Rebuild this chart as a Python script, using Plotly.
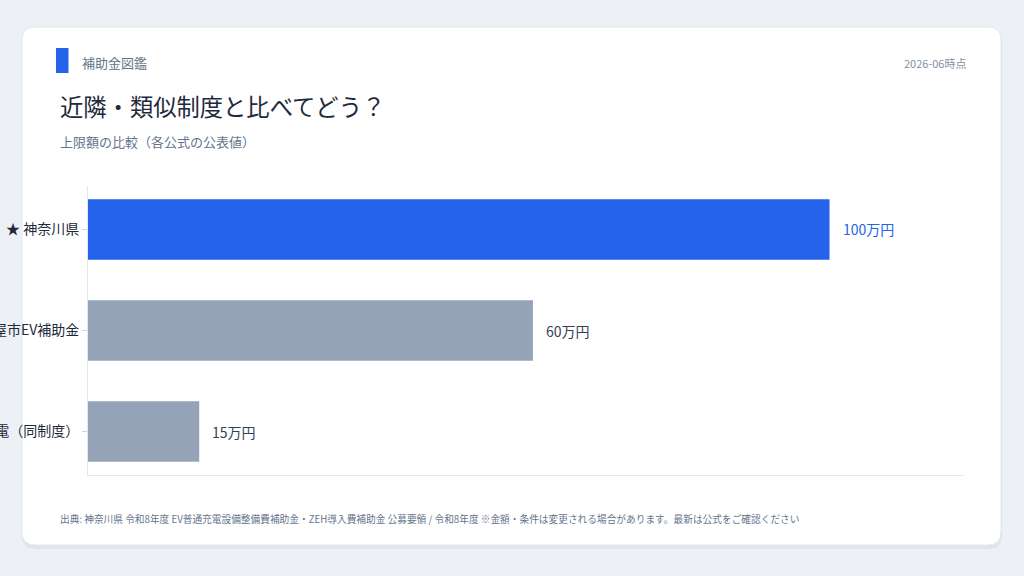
import plotly.graph_objects as go

categories = ["★ 神奈川県", "名古屋市EV補助金", "EV普通充電（同制度）"]
values = [100, 60, 15]
value_unit = "万円"
bar_colors = ["#2563eb", "#94a3b8", "#94a3b8"]
label_colors = ["#2563eb", "#334155", "#334155"]

header = "補助金図鑑"
date_text = "2026-06時点"
title = "近隣・類似制度と比べてどう？"
subtitle = "上限額の比較（各公式の公表値）"
footer = ("出典: 神奈川県 令和8年度 EV普通充電設備整備費補助金・ZEH導入費補助金 公募要領 / 令和8年度 "
          "※金額・条件は変更される場合があります。最新は公式をご確認ください")

FONT = "Noto Sans CJK JP, Noto Sans, sans-serif"
WIDTH, HEIGHT = 1024, 576
L, R, T, B = 88, 61, 186, 101
PW = WIDTH - L - R
PH = HEIGHT - T - B


def px(x):
    return (x - L) / PW


def py(y):
    return (HEIGHT - B - y) / PH


def rounded_rect(x0, y0, x1, y1, r):
    rx = r / PW
    ry = r / PH
    X0, X1 = px(x0), px(x1)
    Y0, Y1 = py(y0), py(y1)  # Y0 top (larger), Y1 bottom
    return (f"M {X0+rx},{Y0} L {X1-rx},{Y0} Q {X1},{Y0} {X1},{Y0-ry} "
            f"L {X1},{Y1+ry} Q {X1},{Y1} {X1-rx},{Y1} L {X0+rx},{Y1} "
            f"Q {X0},{Y1} {X0},{Y1+ry} L {X0},{Y0-ry} Q {X0},{Y0} {X0+rx},{Y0} Z")


fig = go.Figure()
fig.add_trace(go.Bar(
    x=values, y=categories, orientation="h",
    marker=dict(color=bar_colors, line=dict(width=0)),
    width=0.6, hoverinfo="skip",
))

shapes = [
    dict(type="path", xref="paper", yref="paper", layer="below",
         path=rounded_rect(22, 31, 1002, 549, 13),
         fillcolor="#dfe5ee", line=dict(width=0)),
    dict(type="path", xref="paper", yref="paper", layer="below",
         path=rounded_rect(22, 27, 1001, 545, 13),
         fillcolor="#ffffff", line=dict(color="#e2e8f0", width=1)),
    dict(type="rect", xref="paper", yref="paper", layer="below",
         x0=px(56), x1=px(68.5), y0=py(73), y1=py(48),
         fillcolor="#2563eb", line=dict(width=0)),
]

annotations = [
    dict(text=header, xref="paper", yref="paper", x=px(80), y=py(63),
         xanchor="left", yanchor="middle", showarrow=False,
         font=dict(family=FONT, size=13, color="#64748b")),
    dict(text=date_text, xref="paper", yref="paper", x=px(968), y=py(63),
         xanchor="right", yanchor="middle", showarrow=False,
         font=dict(family=FONT, size=11, color="#8391a5")),
    dict(text=title, xref="paper", yref="paper", x=px(58), y=py(106),
         xanchor="left", yanchor="middle", showarrow=False,
         font=dict(family=FONT, size=23.3, color="#1e293b")),
    dict(text=subtitle, xref="paper", yref="paper", x=px(58), y=py(141),
         xanchor="left", yanchor="middle", showarrow=False,
         font=dict(family=FONT, size=13, color="#64748b")),
    dict(text=footer, xref="paper", yref="paper", x=px(58), y=py(519),
         xanchor="left", yanchor="middle", showarrow=False,
         font=dict(family=FONT, size=9.7, color="#64748b")),
]
for cat, v, c in zip(categories, values, label_colors):
    annotations.append(dict(
        text=f"{v}{value_unit}", x=v, y=cat, xref="x", yref="y",
        xanchor="left", yanchor="middle", xshift=11, showarrow=False,
        font=dict(family=FONT, size=14, color=c)))

fig.update_layout(
    template="none",
    width=WIDTH, height=HEIGHT,
    margin=dict(l=L, r=R, t=T, b=B, pad=0),
    paper_bgcolor="#edf1f6",
    plot_bgcolor="rgba(0,0,0,0)",
    showlegend=False,
    font=dict(family=FONT, size=14, color="#1e293b"),
    shapes=shapes,
    annotations=annotations,
    xaxis=dict(range=[0, 118], showgrid=False, zeroline=False,
               showticklabels=False, ticks="", showline=True,
               linecolor="#e2e8f0", linewidth=1, automargin=False,
               fixedrange=True),
    yaxis=dict(type="category", categoryarray=categories,
               range=[2.43, -0.43], showgrid=False, zeroline=False,
               showline=True, linecolor="#e2e8f0", linewidth=1,
               ticks="outside", ticklen=5, tickcolor="#cbd5e1",
               tickfont=dict(family=FONT, size=14, color="#1e293b"),
               automargin=False, fixedrange=True),
)

fig.write_html(
    "out.html",
    config={"displayModeBar": False},
    post_script="document.body.style.margin='0';document.body.style.background='#edf1f6';",
)
